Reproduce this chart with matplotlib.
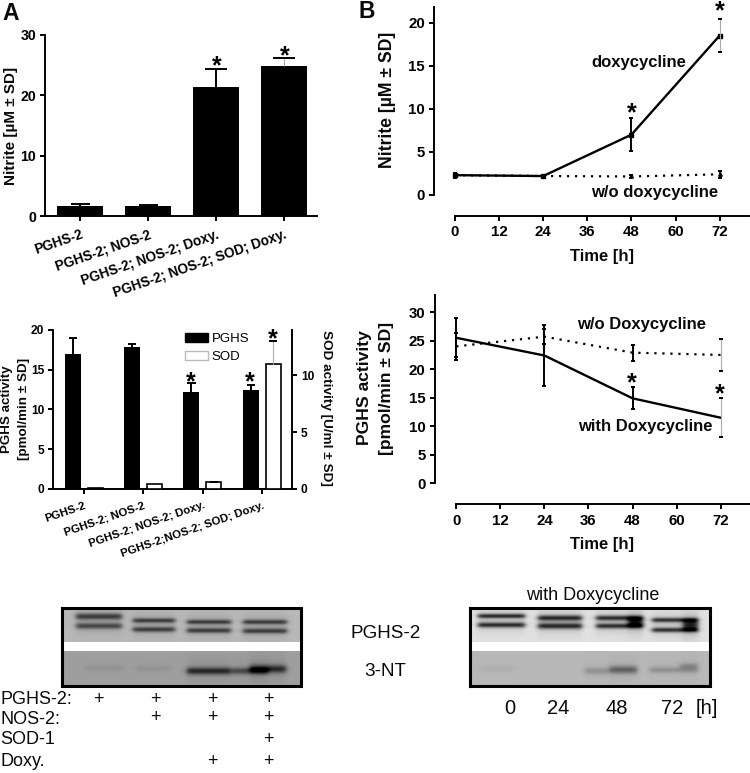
"""Nitrite, PGHS/SOD activity and western blots, panels A and B."""

import matplotlib

matplotlib.use("Agg")
import matplotlib.pyplot as plt
import numpy as np
from matplotlib.patches import Patch

W, H = 750, 773
plt.rcParams["font.family"] = ["Liberation Sans", "DejaVu Sans"]
plt.rcParams["axes.unicode_minus"] = False

# panel A, top
groups_top = ["PGHS-2", "PGHS-2; NOS-2", "PGHS-2; NOS-2; Doxy.", "PGHS-2; NOS-2; SOD; Doxy."]
nitrite_bar = [1.7, 1.6, 21.3, 24.9]
nitrite_bar_sd = [0.3, 0.25, 3.0, 1.3]

# panel A, middle
groups_mid = ["PGHS-2", "PGHS-2; NOS-2", "PGHS-2; NOS-2; Doxy.", "PGHS-2;NOS-2; SOD; Doxy."]
pghs_bar = [17.0, 17.8, 12.2, 12.5]
pghs_bar_sd = [2.0, 0.4, 1.1, 0.6]
sod_bar = [0.05, 0.45, 0.55, 11.0]
sod_bar_sd = [0.0, 0.0, 0.05, 2.05]

# panel B
hours = [0, 24, 48, 72]
nitrite_doxy = [2.3, 2.2, 7.0, 18.5]
nitrite_doxy_sd = [0.3, 0.1, 1.95, 1.9]
nitrite_nodoxy = [2.3, 2.2, 2.15, 2.4]
nitrite_nodoxy_sd = [0.1, 0.1, 0.15, 0.4]
pghs_doxy = [25.5, 22.4, 14.9, 11.5]
pghs_doxy_sd = [3.4, 5.4, 1.9, 3.4]
pghs_nodoxy = [24.0, 25.7, 22.9, 22.5]
pghs_nodoxy_sd = [2.4, 1.3, 1.4, 2.85]

# western blot table
plus_rows = {
    "PGHS-2:": [1, 1, 1, 1],
    "NOS-2:": [0, 1, 1, 1],
    "SOD-1": [0, 0, 0, 1],
    "Doxy.": [0, 0, 1, 1],
}
blot_times = ["0", "24", "48", "72", "[h]"]

# blot bands: x start, x end, y, darkness, thickness
left_pghs = [(76, 122, 616.5, .42, 3.2), (76, 122, 626, .38, 3), (133, 175, 620.5, .42, 2.4), (133, 175, 629.5, .42, 2.6),
             (187, 231, 622, .42, 2.3), (187, 231, 630.5, .42, 2.6), (243, 287, 622, .42, 2.4), (243, 287, 631, .42, 2.6)]
left_nt = [(85, 125, 668, .04, 3), (135, 170, 669, .04, 3), (187, 231, 671, .42, 3.6),
           (232, 268, 671, .3, 3.5), (250, 286, 669, .42, 4)]
right_pghs = [(478, 525, 616, .62, 2.3), (478, 525, 625, .62, 2.6), (538, 582, 618, .62, 2.8), (538, 582, 626, .62, 3),
              (596, 643, 618, .6, 2.6), (596, 643, 626, .6, 2.6), (628, 643, 622, .55, 4.5),
              (652, 698, 620, .6, 2.4), (652, 698, 630, .6, 2.4), (683, 698, 625, .6, 5)]
right_nt = [(480, 515, 669, .03, 3.5), (585, 637, 671, .13, 3.6), (610, 637, 669, .2, 3.6),
            (650, 698, 670, .14, 3), (680, 698, 666, .15, 3)]


def px_axes(x0, y0, x1, y1):
    return fig.add_axes([x0 / W, 1 - y1 / H, (x1 - x0) / W, (y1 - y0) / H])


def px_text(x, y, s, size, bold=True, **kw):
    kw.setdefault("ha", "center")
    kw.setdefault("va", "center")
    fig.text(x / W, 1 - y / H, s, fontsize=size, color="#0a0a0a",
             fontweight="bold" if bold else "normal", **kw)


def star(x, y, size=18):
    # the asterisk sits high in the em box, so go from the baseline
    fig.text(x / W, 1 - (y + 0.76 * size) / H, "*", fontsize=size, fontweight="bold",
             ha="center", va="baseline", color="black")


def style_axes(ax, size, pad=2.5):
    ax.spines["top"].set_visible(False)
    ax.spines["right"].set_visible(False)
    ax.spines["left"].set_linewidth(1.4)
    ax.spines["bottom"].set_linewidth(1.4)
    ax.tick_params(width=1.4, length=3.8, labelsize=size, pad=pad)
    for lab in ax.get_yticklabels():
        lab.set_fontweight("bold")


def slanted_labels(ax, labels, size):
    ax.set_xticks(range(len(labels)))
    ax.set_xticklabels(labels, rotation=19, ha="right", va="top", rotation_mode="anchor",
                       fontweight="bold")
    ax.tick_params(axis="x", pad=4.5, labelsize=size)


def draw_err(ax, x, y, sd, cap, color="black", lw=1.4, both=True):
    low = y - sd if both else y
    ax.plot([x, x], [low, y + sd], color=color, lw=lw, clip_on=False, zorder=3, solid_capstyle="butt")
    ends = [low, y + sd] if both else [y + sd]
    for end in ends:
        ax.plot([x - cap, x + cap], [end, end], color="black", lw=1.4, clip_on=False, zorder=3,
                solid_capstyle="butt")


def draw_blot(x0, x1, grey_top, grey_bot, top_bands, bot_bands):
    y0, y1 = 606, 687
    ax = px_axes(x0 + 1.5, y0 + 1.5, x1 - 1.5, y1 - 1.5)
    xx, yy = np.meshgrid(np.arange(x0 + 2, x1 - 1) + 0.5, np.arange(y0 + 2, y1 - 1) + 0.5)
    img = np.where(yy < 642, grey_top, grey_bot).astype(float)
    for b0, b1, yc, dark, s in list(top_bands) + list(bot_bands):
        along = 0.5 * (np.tanh((xx - b0) / 3) - np.tanh((xx - b1) / 3))
        img -= dark * along * np.exp(-(((yy - yc) / s) ** 2))
        # faint smear round each band
        img -= 0.12 * dark * along * np.exp(-(((yy - yc) / (3.5 * s)) ** 2))
    img[(yy >= 642) & (yy < 651)] = 1.0
    ax.imshow(np.clip(img, 0, 1), cmap="gray", vmin=0, vmax=1, aspect="auto",
              extent=[x0 + 2, x1 - 1, y1 - 1, y0 + 2], interpolation="bilinear")
    ax.set_xticks([])
    ax.set_yticks([])
    for sp in ax.spines.values():
        sp.set_linewidth(2.2)


fig = plt.figure(figsize=(W / 100, H / 100), dpi=100)

# A top: nitrite bars
ax = px_axes(45, 35, 317, 216)
ax.bar(range(4), nitrite_bar, width=0.68, color="black")
for i in range(4):
    draw_err(ax, i, nitrite_bar[i], nitrite_bar_sd[i], 0.16 if i > 1 else 0.14,
             color="#aaaaaa" if i == 3 else "black", lw=0.8 if i == 3 else 1.4, both=False)
ax.set_xlim(-0.515, 3.485)
ax.set_ylim(0, 30)
ax.set_yticks([0, 10, 20, 30])
style_axes(ax, 10.2)
slanted_labels(ax, groups_top, 9.8)
px_text(11, 126, "Nitrite [µM ± SD]", 11, rotation=90)
star(216.5, 60)
star(285, 50)

# A middle: PGHS and SOD activity
ax = px_axes(53, 330, 292, 488.7)
x = np.arange(4)
ax.bar(x - 0.19, pghs_bar, width=0.27, color="black")
for i in range(4):
    draw_err(ax, x[i] - 0.19, pghs_bar[i], pghs_bar_sd[i], 0.07, both=False)
ax.set_xlim(-0.523, 3.507)
ax.set_ylim(0, 20)
ax.set_yticks([0, 5, 10, 15, 20])
style_axes(ax, 8.6)
slanted_labels(ax, groups_mid, 8.2)
ax2 = ax.twinx()
ax2.bar(x + 0.19, sod_bar, width=0.25, facecolor="white", edgecolor="black", linewidth=1.2)
for i in range(2, 4):
    draw_err(ax2, x[i] + 0.19, sod_bar[i], sod_bar_sd[i], 0.07,
             color="#aaaaaa" if i == 3 else "black", lw=0.8 if i == 3 else 1.4, both=False)
ax2.set_ylim(0, 14)
ax2.set_yticks([0, 5, 10])
ax2.spines["top"].set_visible(False)
ax2.spines["left"].set_visible(False)
ax2.spines["bottom"].set_visible(False)
ax2.spines["right"].set_linewidth(1.4)
ax2.tick_params(width=1.4, length=3.8, labelsize=8.6, pad=2.5)
for lab in ax2.get_yticklabels():
    lab.set_fontweight("bold")
ax2.legend(handles=[Patch(facecolor="black", edgecolor="black", label="PGHS"),
                    Patch(facecolor="white", edgecolor="#bbbbbb", label="SOD")],
           loc="upper left", bbox_to_anchor=(185 / W, 1 - 333 / H), bbox_transform=fig.transFigure,
           frameon=False, fontsize=9.5, handlelength=1.75, handleheight=0.7, handletextpad=0.25,
           labelspacing=0.4, borderpad=0, borderaxespad=0)
px_text(7, 409, "PGHS activity", 9.6, rotation=90)
px_text(24, 409, "[pmol/min ± SD]", 9.6, rotation=90)
px_text(326, 408, "SOD activity [U/ml ± SD]", 9.7, rotation=270)
star(191, 376)
star(250, 376)
star(273, 333)

# B top: nitrite time course
ax = px_axes(455, 6.7, 749, 216)
ax.plot(hours, nitrite_nodoxy, color="black", lw=1.6, ls=(0, (1, 2.6)), clip_on=False)
ax.plot(hours, nitrite_doxy, color="black", lw=1.7, marker="s", ms=3.2, clip_on=False)
ax.plot(hours, nitrite_nodoxy, ls="none", color="black", marker="^", ms=2.5, clip_on=False)
for i, t in enumerate(hours):
    light = t == 72
    draw_err(ax, t, nitrite_doxy[i], nitrite_doxy_sd[i], 0.55,
             color="#aaaaaa" if light else "black", lw=0.8 if light else 1.4)
    draw_err(ax, t, nitrite_nodoxy[i], nitrite_nodoxy_sd[i], 0.55, lw=1.2)
ax.set_xlim(0, 80)
ax.set_ylim(-2.44, 21.86)
ax.set_xticks([0, 12, 24, 36, 48, 60, 72])
ax.set_yticks([0, 5, 10, 15, 20])
ax.spines["left"].set_bounds(0, 21.86)
ax.spines["left"].set_position(("outward", 14.9))
style_axes(ax, 10.8, pad=3)
for lab in ax.get_xticklabels():
    lab.set_fontweight("bold")
px_text(387, 100, "Nitrite [µM ± SD]", 12.7, rotation=90)
px_text(602, 257, "Time [h]", 12)
px_text(639, 62, "doxycycline", 12)
px_text(655, 192, "w/o doxycycline", 12)
star(631.5, 107)
star(719.5, 5)

# B middle: PGHS activity time course
ax = px_axes(456.3, 295, 750, 504.3)
ax.plot(hours, pghs_nodoxy, color="black", lw=1.6, ls=(0, (1, 2.6)), clip_on=False)
ax.plot(hours, pghs_doxy, color="black", lw=1.7, clip_on=False)
for i, t in enumerate(hours):
    light = t == 72
    draw_err(ax, t, pghs_doxy[i], pghs_doxy_sd[i], 0.55,
             color="#aaaaaa" if light else "black", lw=0.8 if light else 1.4)
    draw_err(ax, t, pghs_nodoxy[i], pghs_nodoxy_sd[i], 0.55,
             color="#aaaaaa" if light else "black", lw=0.8 if light else 1.4)
ax.set_xlim(0, 80)
ax.set_ylim(-3.67, 33)
ax.set_xticks([0, 12, 24, 36, 48, 60, 72])
ax.set_yticks([0, 5, 10, 15, 20, 25, 30])
ax.spines["left"].set_bounds(0, 33)
ax.spines["left"].set_position(("outward", 15.3))
style_axes(ax, 10.8, pad=3)
for lab in ax.get_xticklabels():
    lab.set_fontweight("bold")
px_text(365, 388, "PGHS activity", 12.6, rotation=90)
px_text(387, 388, "[pmol/min ± SD]", 12.6, rotation=90)
px_text(602, 545, "Time [h]", 12)
px_text(642, 324, "w/o Doxycycline", 12)
px_text(645, 426, "with Doxycycline", 12)
star(632, 377)
star(720, 388)

# blots
draw_blot(60, 302, 0.72, 0.62, left_pghs, left_nt)
draw_blot(468, 711, 0.88, 0.72, right_pghs, right_nt)
px_text(386, 633, "PGHS-2", 13.6, bold=False)
px_text(385, 671, "3-NT", 13.6, bold=False)
px_text(593, 595, "with Doxycycline", 13, bold=False)
for s, tx in zip(blot_times, [510, 557.7, 617, 671.7, 707]):
    px_text(tx, 709, s, 14.5, bold=False)

plus_x = [98, 155, 212, 268.7]
plus_y = [699, 718, 740, 762]
for row, (name, marks) in enumerate(plus_rows.items()):
    px_text(0, plus_y[row] + (2 if row == 1 else 0), name, 13, bold=False, ha="left")
    for col, m in enumerate(marks):
        if m:
            px_text(plus_x[col], plus_y[row], "+", 13, bold=False)

px_text(2, 13, "A", 16.5, ha="left")
px_text(358, 11, "B", 16.5, ha="left")

fig.savefig("out.png", dpi=100)
plt.close()
